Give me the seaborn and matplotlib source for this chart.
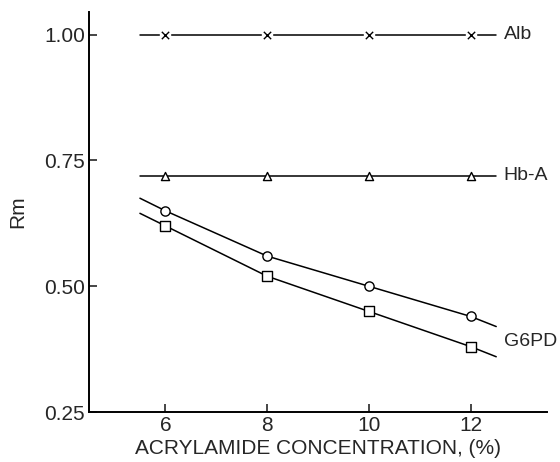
import numpy as np
import pandas as pd
import seaborn as sns
import matplotlib.pyplot as plt

# acrylamide concentration (%) where samples were run
conc = [6, 8, 10, 12]
# ends of the drawn lines (slightly beyond the measured range)
line_x = [5.5, 6, 8, 10, 12, 12.5]

alb_rm = [1.00, 1.00, 1.00, 1.00, 1.00, 1.00]
hba_rm = [0.72, 0.72, 0.72, 0.72, 0.72, 0.72]
g6pd_a_rm = [0.675, 0.65, 0.56, 0.50, 0.44, 0.42]
g6pd_b_rm = [0.645, 0.62, 0.52, 0.45, 0.38, 0.36]

labels = ['Alb', 'Hb-A', 'G6PD']
label_y = [1.00, 0.72, 0.39]

sns.set_theme(style='white')
plt.rcParams['font.family'] = ['Liberation Sans', 'DejaVu Sans']

fig = plt.figure(figsize=(5.6, 4.62), dpi=100)
ax = fig.add_axes([0.159, 0.108, 0.818, 0.866])

series = [
    (alb_rm, 'x', 'black'),
    (hba_rm, '^', 'white'),
    (g6pd_a_rm, 'o', 'white'),
    (g6pd_b_rm, 's', 'white'),
]
for ys, mk, fc in series:
    df = pd.DataFrame({'conc': line_x, 'rm': ys})
    sns.lineplot(data=df, x='conc', y='rm', ax=ax, color='black', lw=1.1,
                 marker=None)
    pts = df[df['conc'].isin(conc)]
    if mk == 'x':
        # white patch to break the line around the cross
        ax.scatter(pts['conc'], pts['rm'], marker='s', s=60, color='white',
                   zorder=3)
        ax.scatter(pts['conc'], pts['rm'], marker='x', s=28, color='black',
                   linewidths=1.0, zorder=4)
    else:
        sz = 34 if mk == '^' else 44
        ax.scatter(pts['conc'], pts['rm'], marker=mk, s=sz, facecolor=fc,
                   edgecolor='black', linewidths=1.0, zorder=4)

for lab, yv in zip(labels, label_y):
    ax.text(12.65, yv, lab, ha='left', va='center', fontsize=14)

ax.set_xlim(4.5, 13.5)
ax.set_ylim(0.25, 1.045)
ax.set_xticks(conc)
ax.set_xticklabels([str(c) for c in conc])
ax.set_yticks([0.25, 0.50, 0.75, 1.00])
ax.set_yticklabels(['0.25', '0.50', '0.75', '1.00'])
ax.tick_params(direction='in', length=6, width=1.2, labelsize=15,
               left=True, bottom=True, pad=3)
for s in ['top', 'right']:
    ax.spines[s].set_visible(False)
for s in ['left', 'bottom']:
    ax.spines[s].set_color('black')
    ax.spines[s].set_linewidth(1.4)

ax.set_xlabel('ACRYLAMIDE CONCENTRATION, (%)', fontsize=15, labelpad=3)
ax.set_ylabel('Rm', fontsize=15, labelpad=12)

fig.savefig('out.png', dpi=100)
